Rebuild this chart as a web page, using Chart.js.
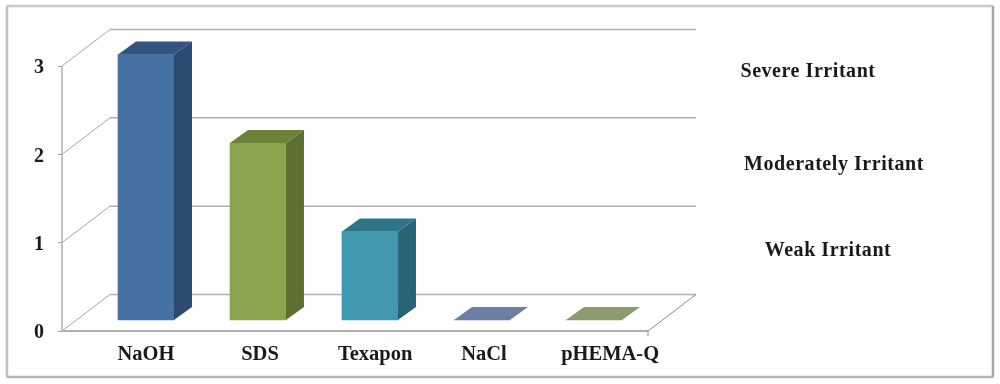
<!DOCTYPE html>
<html>
<head>
<meta charset="utf-8">
<style>
  html, body { margin: 0; padding: 0; background: #fff; }
  canvas { display: block; filter: blur(0.6px); }
</style>
<script src="https://cdn.jsdelivr.net/npm/chart.js@4"></script>
</head>
<body>
<canvas id="chart" width="1000" height="384"></canvas>
<script>
var categories = ['NaOH', 'SDS', 'Texapon', 'NaCl', 'pHEMA-Q'];
var scores = [3, 2, 1, 0, 0];
var yTicks = [0, 1, 2, 3];
var classNames = ['Severe Irritant', 'Moderately Irritant', 'Weak Irritant'];

var frontColors = ['#4671a6', '#89a54e', '#4198af', '#6b7fa5', '#8c9c6e'];
var sideColors = ['#2d4a70', '#5d7034', '#296475', '#6b7fa5', '#8c9c6e'];
var topColors = ['#34557f', '#6a8239', '#2f7589', '#6b7fa5', '#8c9c6e'];

var serif = '"Liberation Serif", "Times New Roman", serif';
var wallDx = 48, wallDy = -36.5, barDx = 18, barDy = -13;
// category labels in the picture are hand placed, not evenly spaced
var labelSlots = [0, 0.985, 1.98, 2.92, 4.01];

function line(ctx, x1, y1, x2, y2, color, width) {
  ctx.strokeStyle = color;
  ctx.lineWidth = width;
  ctx.beginPath();
  ctx.moveTo(x1, y1);
  ctx.lineTo(x2, y2);
  ctx.stroke();
}

function poly(ctx, pts, color) {
  ctx.fillStyle = color;
  ctx.beginPath();
  ctx.moveTo(pts[0][0], pts[0][1]);
  for (var i = 1; i < pts.length; i++) ctx.lineTo(pts[i][0], pts[i][1]);
  ctx.closePath();
  ctx.fill();
}

// frame, 3d walls, floor and the text on the right
var wallsPlugin = {
  id: 'walls',
  beforeDatasetsDraw: function(chart) {
    var ctx = chart.ctx, y = chart.scales.y, left = chart.chartArea.left, right = chart.chartArea.right;
    var frontRight = right - wallDx;

    ctx.save();
    line(ctx, 7, 6, 993, 6, '#c8c8c8', 2.5);
    line(ctx, 7, 6, 7, 377, '#c0c0c0', 2.5);
    line(ctx, 993, 6, 993, 377, '#a8a8a8', 2.5);
    line(ctx, 7, 377, 993, 377, '#b4b4b4', 2.5);

    yTicks.forEach(function(v) {
      var py = y.getPixelForValue(v);
      line(ctx, left + wallDx, py + wallDy, right, py + wallDy, '#b0b0b0', 1.5);
      line(ctx, left, py, left + wallDx, py + wallDy, '#a6a6a6', 1);
    });

    var py0 = y.getPixelForValue(0);
    line(ctx, left, y.getPixelForValue(3), left, py0, '#b0b0b0', 1.5);
    line(ctx, left, py0, frontRight, py0, '#b0b0b0', 2);
    line(ctx, frontRight, py0, right, py0 + wallDy, '#8c8c8c', 1);
    line(ctx, frontRight, py0, frontRight, py0 + 5, '#8c8c8c', 1);

    ctx.fillStyle = '#1a1a1a';
    ctx.font = 'bold 20px ' + serif;
    ctx.letterSpacing = '0.55px';
    ctx.textAlign = 'center';
    ctx.textBaseline = 'middle';
    ctx.fillText(classNames[0], 808, 72);
    ctx.fillText(classNames[1], 834, 165);
    ctx.fillText(classNames[2], 828, 251);
    ctx.restore();
  },
  afterDatasetsDraw: function(chart) {
    var ctx = chart.ctx;
    chart.getDatasetMeta(0).data.forEach(function(bar, i) {
      var l = bar.x - bar.width / 2, r = bar.x + bar.width / 2;
      poly(ctx, [[r, bar.y], [r + barDx, bar.y + barDy], [r + barDx, bar.base + barDy], [r, bar.base]], sideColors[i]);
      poly(ctx, [[l, bar.y], [r, bar.y], [r + barDx, bar.y + barDy], [l + barDx, bar.y + barDy]], topColors[i]);
    });
  }
};

new Chart(document.getElementById('chart'), {
  type: 'bar',
  data: {
    datasets: [{
      data: scores.map(function(v, i) { return { x: i, y: v }; }),
      backgroundColor: frontColors,
      barThickness: 56,
      xAxisID: 'barX',
      yAxisID: 'barY'
    }]
  },
  options: {
    responsive: false,
    animation: false,
    layout: { padding: { top: 29, right: 304, left: 0, bottom: 0 } },
    plugins: { legend: { display: false }, tooltip: { enabled: false }, title: { display: false } },
    scales: {
      // axes the labels hang from, front plane of the box
      x: {
        type: 'linear',
        position: 'bottom',
        offset: false,
        min: -0.7257,
        max: 4.7516,
        afterFit: function(scale) { scale.height = 53; },
        afterBuildTicks: function(scale) {
          scale.ticks = labelSlots.map(function(v) { return { value: v }; });
        },
        grid: { display: false, offset: false },
        border: { display: false },
        ticks: {
          autoSkip: false,
          maxRotation: 0,
          padding: 3,
          color: '#1a1a1a',
          font: { family: serif, size: 20.5, weight: 'bold' },
          callback: function(v, i) { return categories[i]; }
        }
      },
      y: {
        type: 'linear',
        position: 'left',
        min: 0,
        max: 3.419,
        afterFit: function(scale) { scale.width = 62; },
        grid: { drawOnChartArea: false, color: '#a0a0a0', tickLength: 4 },
        border: { display: false },
        ticks: {
          stepSize: 1,
          includeBounds: false,
          padding: 14,
          labelOffset: 2,
          color: '#1a1a1a',
          font: { family: serif, size: 20, weight: 'bold' }
        }
      },
      // bars stand further back in the box, so they get their own hidden axes
      barX: { type: 'linear', axis: 'x', display: false, offset: false, grid: { offset: false }, min: -0.75, max: 4.911 },
      barY: { type: 'linear', axis: 'y', display: false, min: -0.1243, max: 3.288 }
    }
  },
  plugins: [wallsPlugin]
});
</script>
</body>
</html>
